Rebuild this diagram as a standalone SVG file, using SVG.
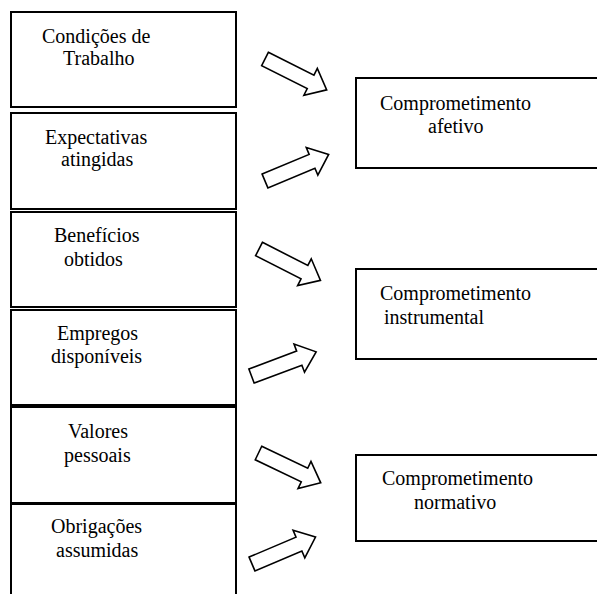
<svg xmlns="http://www.w3.org/2000/svg" width="597" height="594" viewBox="0 0 597 594">
<style>
.box{fill:#fff;stroke:#000;stroke-width:2}
.t{font-family:"Liberation Serif","Times New Roman","DejaVu Serif",serif;font-size:20px;fill:#000}
.arr{fill:#fff;stroke:#000;stroke-width:1.6;stroke-linejoin:miter}
</style>
<defs>
<path id="ar" d="M0,-7.5 L51,-7.5 L51,-15 L69,0 L51,15 L51,7.5 L0,7.5 Z"/>
</defs>
<rect width="597" height="594" fill="#fff"/>
<g id="n1"><rect class="box" x="11" y="12" width="225" height="95"/><text class="t" x="42" y="43">Condições de</text><text class="t" x="63" y="65">Trabalho</text></g>
<g id="n2"><rect class="box" x="11" y="113" width="225" height="96"/><text class="t" x="45" y="144">Expectativas</text><text class="t" x="61" y="166">atingidas</text></g>
<g id="n3"><rect class="box" x="11" y="212" width="225" height="95"/><text class="t" x="54" y="242">Benefícios</text><text class="t" x="64" y="266">obtidos</text></g>
<g id="n4"><rect class="box" x="11" y="310" width="225" height="95"/><text class="t" x="57" y="340">Empregos</text><text class="t" x="51" y="363">disponíveis</text></g>
<g id="n5"><rect class="box" x="11" y="407" width="225" height="96"/><text class="t" x="68" y="438">Valores</text><text class="t" x="64" y="462">pessoais</text></g>
<g id="n6"><rect class="box" x="11" y="504" width="225" height="100"/><text class="t" x="51" y="533">Obrigações</text><text class="t" x="56" y="557">assumidas</text></g>
<g id="r1"><rect class="box" x="356" y="78" width="250" height="90"/><text class="t" x="380" y="110">Comprometimento</text><text class="t" x="428" y="133">afetivo</text></g>
<g id="r2"><rect class="box" x="356" y="269" width="250" height="90"/><text class="t" x="380" y="300">Comprometimento</text><text class="t" x="384" y="324">instrumental</text></g>
<g id="r3"><rect class="box" x="356" y="455" width="250" height="86"/><text class="t" x="382" y="485">Comprometimento</text><text class="t" x="414" y="509">normativo</text></g>
<g id="connectors">
<use href="#ar" class="arr" transform="translate(265,59) rotate(26.6)"/>
<use href="#ar" class="arr" transform="translate(265,181) rotate(-22.7)"/>
<use href="#ar" class="arr" transform="translate(259,249) rotate(27)"/>
<use href="#ar" class="arr" transform="translate(251.5,376) rotate(-20.5)"/>
<use href="#ar" class="arr" transform="translate(258.5,453) rotate(25.6)"/>
<use href="#ar" class="arr" transform="translate(252,564) rotate(-23)"/>
</g>
</svg>
